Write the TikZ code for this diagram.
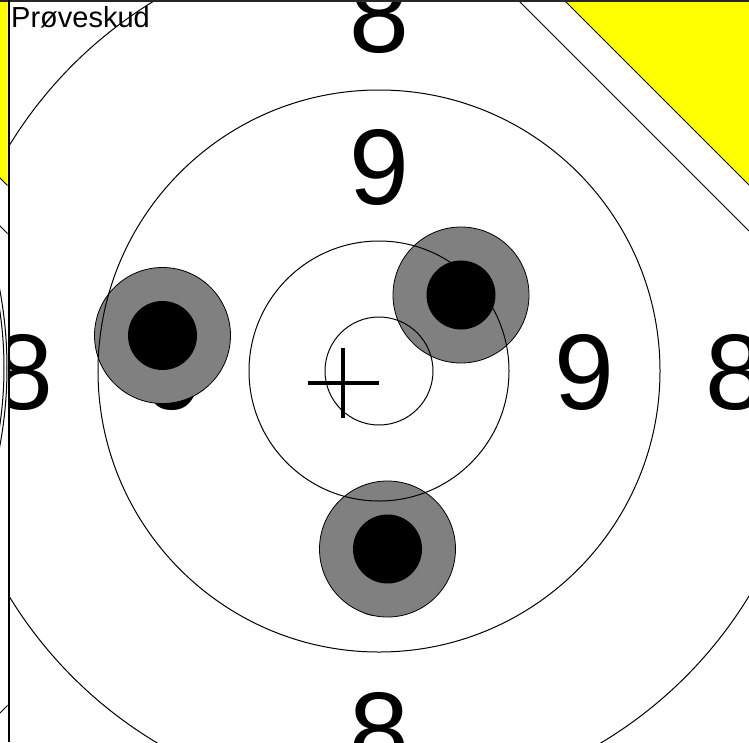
\documentclass[tikz,border=0pt]{standalone}
\usepackage{fontspec}
\setmainfont{Liberation Sans}
\definecolor{yel}{RGB}{255,255,0}
\begin{document}
\begin{tikzpicture}[x=1pt,y=-1pt,
  ring/.style={draw=black,line width=1pt},
  digit/.style={inner sep=0pt,anchor=base,font=\fontsize{107.5}{107.5}\selectfont},
  shotouter/.style={circle,fill=gray,draw=black,line width=0.8pt,inner sep=0pt,minimum size=136pt},
  shotinner/.style={circle,fill=black,inner sep=0pt,minimum size=69pt},
  thinline/.style={draw=black,line width=1pt},
  yellowzone/.style={fill=yel,draw=black,line width=0.8pt}]
\useasboundingbox (0,0) rectangle (749,742);
\fill[white] (0,0) rectangle (749,742);
% left strip (neighbouring view)
\begin{scope}
  \clip (0,0) rectangle (7.5,742);
  \fill[yel] (-10,0) -- (7.5,0) -- (7.5,185.5) -- (-10,168) -- cycle;
  \draw[thinline] (-10,168) -- (7.5,185.5);
  \draw[thinline] (-10,216) -- (8,234);
  \draw[thinline] (-10,723) -- (8,705);
  \draw[thinline] (-416,368) circle (423);
  \draw[thinline] (-383,368) circle (387);
\end{scope}
% main view
\begin{scope}
  \clip (9.5,1.5) rectangle (749,742);
  \coordinate (c) at (379,371);
  \node[digit] (d8t) at (379,52) {8};
  \node[digit] (d9t) at (379,204) {9};
  \node[digit] (d9r) at (584,409.5) {9};
  \node[digit] (d8r) at (735,409.5) {8};
  \node[digit] (d9l) at (174,409.5) {9};
  \node[digit] (d8l) at (23,409.5) {8};
  \node[digit] (d9b) at (379,615) {9};
  \node[digit] (d8b) at (379,767) {8};
  \node[shotouter] (s1) at (461,295) {};
  \node[shotouter] (s2) at (162.5,335.5) {};
  \node[shotouter] (s3) at (387.5,549) {};
  \draw[ring] (c) circle (54);
  \draw[ring] (c) circle (130);
  \draw[ring] (c) circle (281);
  \draw[ring] (c) circle (433);
  \node[shotinner] (b1) at (s1.center) {};
  \node[shotinner] (b2) at (s2.center) {};
  \node[shotinner] (b3) at (s3.center) {};
  \draw[line width=4pt] (308,383) -- (379,383);
  \draw[line width=4pt] (343,348) -- (343,418);
  \draw[thinline] (518,0) -- (760,242);
  \path[yellowzone] (564,0) -- (760,0) -- (760,196) -- cycle;
  \node[inner sep=0pt,anchor=base west,font=\fontsize{29}{29}\selectfont] (title) at (11,27.5) {Prøveskud};
\end{scope}
\draw[black!85,line width=1.6pt] (0,0.8) -- (749,0.8);
\draw[black,line width=1.5pt] (8.8,0) -- (8.8,742);
\end{tikzpicture}
\end{document}
